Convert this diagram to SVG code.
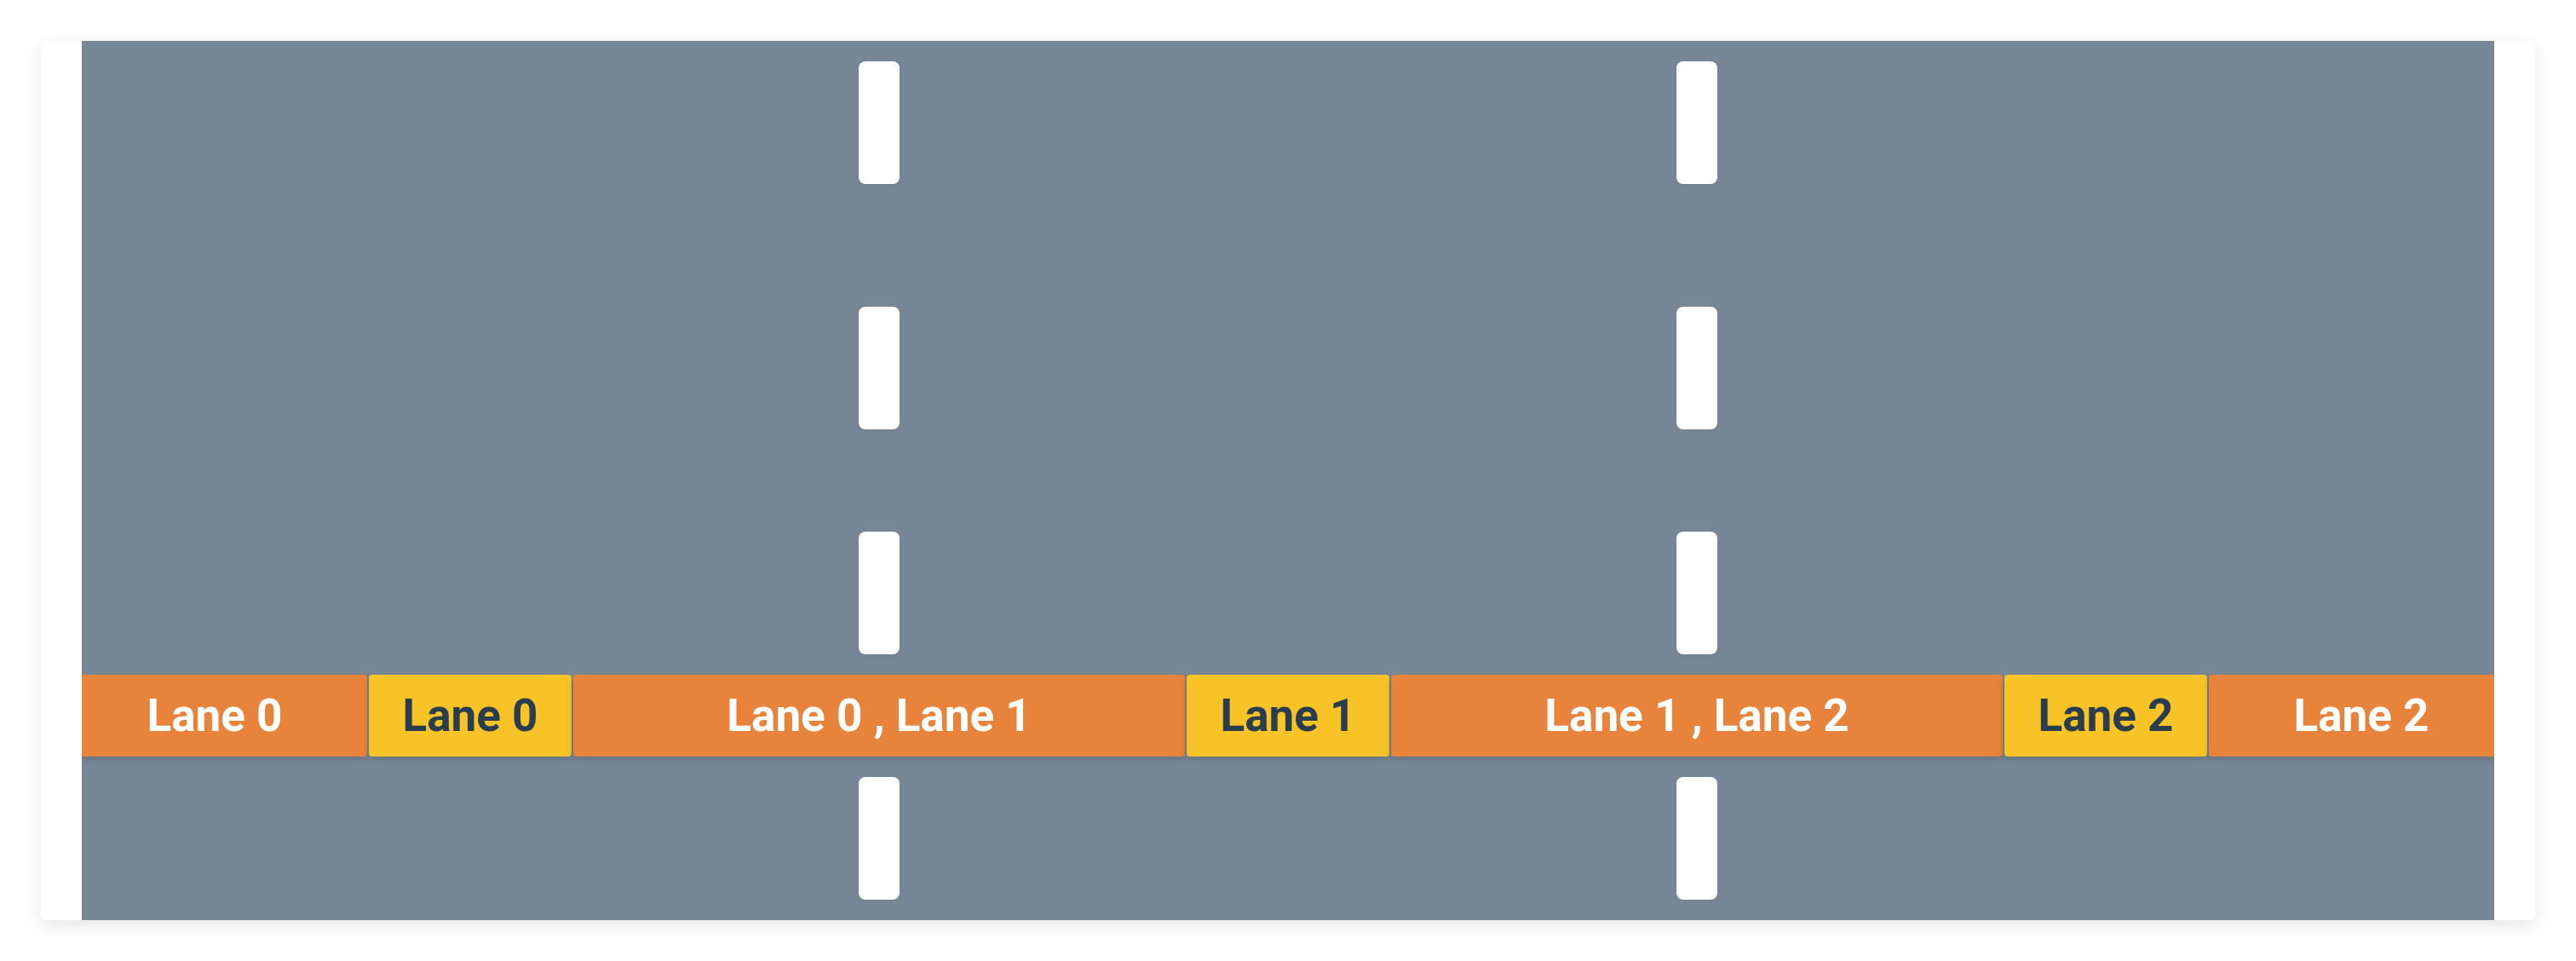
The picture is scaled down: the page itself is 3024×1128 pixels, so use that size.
<svg xmlns="http://www.w3.org/2000/svg" width="3024" height="1128" viewBox="0 0 3024 1128">
  <style>
    .lbl { font-family: Roboto, "Liberation Sans", sans-serif; font-weight: 700; font-size: 53px; text-anchor: middle; }
    .lt { fill: #ffffff; }
    .dk { fill: #2c3e50; }
    .org { fill: #e8833a; }
    .yel { fill: #f7c325; }
    .dash { fill: #ffffff; }
  </style>
  <defs>
    <filter id="cardShadow" x="-5%" y="-10%" width="110%" height="125%">
      <feDropShadow dx="0" dy="6" stdDeviation="10" flood-color="#000000" flood-opacity="0.10"/>
    </filter>
    <filter id="segShadow" x="-10%" y="-20%" width="120%" height="160%">
      <feDropShadow dx="0" dy="4" stdDeviation="5" flood-color="#000000" flood-opacity="0.15"/>
    </filter>
    <filter id="dashShadow" x="-50%" y="-20%" width="200%" height="140%">
      <feDropShadow dx="0" dy="1" stdDeviation="5" flood-color="#000000" flood-opacity="0.05"/>
    </filter>
    <clipPath id="roadClip">
      <rect x="96" y="48" width="2832" height="1032"/>
    </clipPath>
  </defs>

  <rect width="3024" height="1128" fill="#ffffff"/>

  <g id="card">
    <rect x="48" y="48" width="2928" height="1032" rx="8" fill="#ffffff" filter="url(#cardShadow)"/>
  </g>

  <g id="road" clip-path="url(#roadClip)">
    <rect x="96" y="48" width="2832" height="1032" fill="#788797"/>

    <g id="dividers" filter="url(#dashShadow)">
      <rect class="dash" x="1008" y="72" width="48" height="144" rx="8"/>
      <rect class="dash" x="1008" y="360" width="48" height="144" rx="8"/>
      <rect class="dash" x="1008" y="624" width="48" height="144" rx="8"/>
      <rect class="dash" x="1008" y="912" width="48" height="144" rx="8"/>
      <rect class="dash" x="1968" y="72" width="48" height="144" rx="8"/>
      <rect class="dash" x="1968" y="360" width="48" height="144" rx="8"/>
      <rect class="dash" x="1968" y="624" width="48" height="144" rx="8"/>
      <rect class="dash" x="1968" y="912" width="48" height="144" rx="8"/>
    </g>

    <g id="band">
      <g id="seg-lane0-left" filter="url(#segShadow)">
        <rect class="org" x="73" y="792" width="358" height="96" rx="4"/>
        <text class="lbl lt" x="252" y="858">Lane 0</text>
      </g>
      <g id="seg-lane0-center" filter="url(#segShadow)">
        <rect class="yel" x="433" y="792" width="238" height="96" rx="4"/>
        <text class="lbl dk" x="552" y="858">Lane 0</text>
      </g>
      <g id="seg-lane01" filter="url(#segShadow)">
        <rect class="org" x="673" y="792" width="718" height="96" rx="4"/>
        <text class="lbl lt" x="1032" y="858">Lane 0 , Lane 1</text>
      </g>
      <g id="seg-lane1-center" filter="url(#segShadow)">
        <rect class="yel" x="1393" y="792" width="238" height="96" rx="4"/>
        <text class="lbl dk" x="1512" y="858">Lane 1</text>
      </g>
      <g id="seg-lane12" filter="url(#segShadow)">
        <rect class="org" x="1633" y="792" width="718" height="96" rx="4"/>
        <text class="lbl lt" x="1992" y="858">Lane 1 , Lane 2</text>
      </g>
      <g id="seg-lane2-center" filter="url(#segShadow)">
        <rect class="yel" x="2353" y="792" width="238" height="96" rx="4"/>
        <text class="lbl dk" x="2472" y="858">Lane 2</text>
      </g>
      <g id="seg-lane2-right" filter="url(#segShadow)">
        <rect class="org" x="2593" y="792" width="358" height="96" rx="4"/>
        <text class="lbl lt" x="2772" y="858">Lane 2</text>
      </g>
    </g>
  </g>

  <g id="connectors"></g>
</svg>
